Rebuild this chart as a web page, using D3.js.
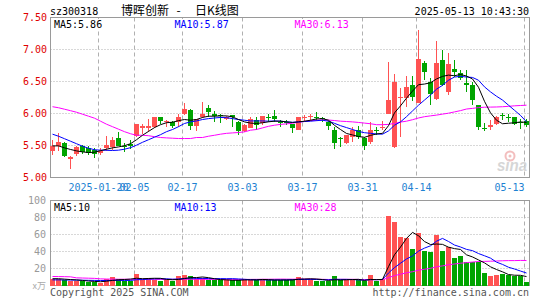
<!DOCTYPE html>
<html><head><meta charset="utf-8">
<script src="https://cdn.jsdelivr.net/npm/d3@7"></script>
<style>body{margin:0;background:#fff}svg{display:block}</style>
</head><body><svg id="c" width="545" height="300"></svg>
<script>
const dates = ["01-08","01-09","01-10","01-13","01-14","01-15","01-16","01-17","01-20","01-21","01-22","01-23","01-24","01-27",
"02-05","02-06","02-07","02-10","02-11","02-12","02-13","02-14","02-17","02-18","02-19","02-20","02-21","02-24","02-25","02-26","02-27","02-28",
"03-03","03-04","03-05","03-06","03-07","03-10","03-11","03-12","03-13","03-14","03-17","03-18","03-19","03-20","03-21","03-24","03-25","03-26","03-27","03-28","03-31",
"04-01","04-02","04-03","04-07","04-08","04-09","04-10","04-11","04-14","04-15","04-16","04-17","04-18","04-21","04-22","04-23","04-24","04-25","04-28","04-29","04-30",
"05-06","05-07","05-08","05-09","05-12","05-13"];
const open = [5.41,5.50,5.54,5.29,5.36,5.50,5.46,5.43,5.39,5.46,
5.48,5.61,5.50,5.52,5.65,5.78,5.78,5.79,5.94,5.86,
5.86,5.87,6.00,6.05,5.80,5.94,6.09,5.99,5.97,5.92,
5.97,5.87,5.73,5.78,5.90,5.85,5.94,5.96,5.87,5.87,
5.83,5.75,5.93,5.94,5.95,5.93,5.87,5.75,5.62,5.54,
5.64,5.74,5.61,5.56,5.75,5.78,5.99,5.48,6.24,6.25,
6.45,6.17,6.79,6.49,6.22,6.84,6.34,6.69,6.63,6.47,
6.45,6.13,5.78,5.79,5.84,5.97,5.95,5.94,5.87,5.89];
const high = [5.58,5.69,5.56,5.33,5.49,5.51,5.50,5.46,5.46,5.65,
5.63,5.71,5.54,5.59,5.84,5.83,5.92,5.94,5.94,5.90,
5.88,6.00,6.16,6.07,5.92,6.18,6.14,6.04,6.00,5.96,
5.98,5.88,5.84,5.95,5.95,5.96,6.00,6.05,5.90,5.90,
5.83,5.94,5.98,6.00,6.02,5.95,5.88,5.79,5.63,5.66,
5.79,5.80,5.63,5.87,5.79,5.88,6.80,6.61,6.40,6.58,
6.58,7.30,6.82,6.55,7.14,6.99,6.94,6.83,6.68,6.68,
6.50,6.14,5.85,5.90,5.96,6.01,6.00,5.94,5.92,5.92];
const low = [5.35,5.42,5.32,5.13,5.33,5.36,5.35,5.31,5.35,5.41,
5.43,5.49,5.40,5.45,5.63,5.68,5.71,5.78,5.83,5.79,
5.77,5.79,5.97,5.75,5.73,5.93,5.95,5.87,5.85,5.90,
5.79,5.67,5.71,5.77,5.75,5.82,5.87,5.86,5.79,5.82,
5.69,5.74,5.89,5.89,5.89,5.86,5.74,5.44,5.48,5.53,
5.56,5.60,5.43,5.53,5.66,5.74,5.99,5.46,5.63,6.10,
6.19,6.16,6.52,6.13,6.21,6.43,6.29,6.57,6.52,6.34,
6.13,5.74,5.72,5.74,5.82,5.90,5.87,5.82,5.76,5.79];
const close = [5.50,5.56,5.33,5.32,5.47,5.40,5.39,5.375,5.42,5.51,
5.58,5.50,5.47,5.50,5.83,5.80,5.80,5.94,5.88,5.88,
5.81,5.94,6.07,5.80,5.91,6.00,6.03,5.96,5.96,5.94,
5.94,5.73,5.82,5.91,5.82,5.96,5.93,5.91,5.85,5.85,
5.78,5.94,5.94,5.96,5.93,5.91,5.80,5.54,5.61,5.66,
5.74,5.64,5.50,5.75,5.73,5.79,6.21,6.50,6.26,6.42,
6.26,6.85,6.65,6.31,6.79,6.44,6.77,6.65,6.55,6.44,
6.21,5.79,5.77,5.82,5.94,5.96,5.94,5.84,5.86,5.82];
const volume = [8,8,6.5,5.5,5,5,4.3,4.3,3.5,8.2,
9.6,8.2,5.8,5.8,13.3,7,9.4,7,5.5,7,
5,11,12.2,11,7.4,8.5,7,5.9,5.9,5.9,
5.9,7,8.2,6.2,5.9,8.2,5.9,6.2,6.2,6.2,
8.2,10.2,7.4,7.4,5,5,5,11.4,6.2,6.2,
6.2,6.2,5,12.2,5,7.4,81.5,74.9,57.2,56,
42.7,61.9,40.7,39.6,59.2,40.4,45.4,32.5,34.5,27.8,
27.8,27.8,14.9,11.5,12.2,14,12,11,11,4.5];
const ma5 = [5.494,5.494,5.463,5.438,5.416,5.400,5.390,5.395,5.419,5.442,
5.463,5.478,5.497,5.528,5.590,5.660,5.720,5.780,5.825,5.856,
5.864,5.888,5.906,5.895,5.906,5.938,5.958,5.958,5.963,5.963,
5.947,5.906,5.869,5.850,5.844,5.855,5.870,5.880,5.880,5.869,
5.860,5.869,5.880,5.895,5.915,5.920,5.895,5.815,5.750,5.688,
5.665,5.640,5.628,5.658,5.680,5.690,5.810,6.010,6.120,6.240,
6.350,6.450,6.460,6.480,6.540,6.580,6.600,6.590,6.610,6.585,
6.540,6.410,6.190,6.010,5.895,5.840,5.848,5.855,5.868,5.860];
const ma10 = [5.677,5.645,5.606,5.567,5.528,5.489,5.458,5.434,5.427,5.425,
5.422,5.427,5.442,5.466,5.505,5.550,5.590,5.630,5.669,5.716,
5.750,5.794,5.844,5.869,5.884,5.906,5.920,5.930,5.938,5.935,
5.920,5.906,5.895,5.884,5.884,5.884,5.880,5.884,5.880,5.870,
5.862,5.869,5.875,5.880,5.888,5.895,5.880,5.846,5.810,5.780,
5.750,5.720,5.700,5.690,5.680,5.677,5.728,5.817,5.869,5.950,
6.040,6.130,6.210,6.290,6.380,6.440,6.520,6.570,6.580,6.570,
6.563,6.520,6.416,6.338,6.270,6.210,6.130,6.050,5.970,5.870];
const ma30 = [6.106,6.090,6.067,6.044,6.020,5.989,5.958,5.927,5.880,5.833,
5.794,5.755,5.716,5.684,5.660,5.660,5.653,5.638,5.625,5.619,
5.614,5.609,5.609,5.609,5.625,5.625,5.645,5.660,5.677,5.690,
5.697,5.703,5.713,5.739,5.750,5.775,5.800,5.817,5.830,5.838,
5.848,5.864,5.875,5.888,5.895,5.900,5.898,5.890,5.880,5.875,
5.869,5.860,5.850,5.840,5.825,5.825,5.830,5.845,5.866,5.880,
5.903,5.930,5.950,5.963,5.975,5.990,6.005,6.025,6.045,6.070,
6.080,6.092,6.098,6.100,6.102,6.106,6.112,6.120,6.125,6.130];
const vma5 = [8.0,8.0,7.5,7.0,6.6,6.0,5.26,4.82,4.42,5.06,
5.98,6.76,7.06,7.52,8.54,8.02,8.26,8.5,8.44,7.18,
6.78,7.1,8.14,9.24,9.32,10.02,9.22,7.96,6.94,6.64,
6.12,6.12,6.58,6.64,6.64,7.1,6.88,6.48,6.48,6.54,
6.54,7.4,7.64,7.88,7.64,7.0,5.96,6.76,6.52,6.76,
7.0,7.24,5.96,7.16,6.92,7.16,22.2,36.2,45.2,55.4,
62.5,58.5,51.7,48.2,48.8,48.4,45.1,43.4,42.4,36.1,
33.6,30.1,26.6,22.0,18.8,16.1,12.9,12.1,12.0,10.5];
const vma10 = [6.6,6.6,6.5,6.4,6.3,6.2,6.1,6.0,5.9,5.83,
5.99,6.01,5.94,5.97,6.8,7.0,7.51,7.78,7.98,7.86,
7.4,7.68,8.32,8.84,8.25,8.4,8.16,8.05,8.09,7.98,
8.07,7.67,7.27,6.79,6.64,6.61,6.5,6.53,6.56,6.59,
6.82,7.14,7.06,7.18,7.09,6.77,6.68,7.2,7.2,7.2,
7.0,6.6,6.36,6.84,6.84,7.08,14.73,21.1,26.2,31.2,
34.8,40.4,44.0,46.7,52.1,55.4,51.8,47.6,45.3,42.5,
41.0,37.6,35.0,32.2,27.5,24.8,21.5,19.4,17.0,14.7];
const vma30 = [10.6,10.5,10.4,10.2,9.0,8.8,8.6,8.4,7.8,7.6,
7.5,7.4,7.4,7.3,7.3,7.3,7.3,7.3,7.2,7.2,
7.2,7.2,7.3,7.3,7.3,7.3,7.2,7.2,7.2,7.22,
7.15,7.12,7.18,7.2,7.23,7.34,7.39,7.45,7.54,7.48,
7.43,7.5,7.55,7.6,7.33,7.26,7.11,7.26,7.28,7.26,
7.3,7.14,6.9,6.94,6.86,6.82,9.3,11.6,13.3,14.98,
16.2,18.04,19.1,20.2,22.0,23.1,24.4,25.3,26.2,26.9,
27.6,28.2,28.4,28.6,28.8,29.1,29.3,29.3,29.5,29.4];
const priceTicks = [5.00,5.50,6.00,6.50,7.00,7.50];
const volTicks = [20,40,60,80,100];
const dateTicks = ["01-20","02-05","02-17","03-03","03-17","03-31","04-14","05-13"];
const dateTickLabels = ["2025-01-20","02-05","02-17","03-03","03-17","03-31","04-14","05-13"];
const legendMain = [["MA5:5.86","#000"],["MA10:5.87","#0000ff"],["MA30:6.13","#ff00ff"]];
const legendVol = [["MA5:10","#000"],["MA10:13","#0000ff"],["MA30:28","#ff00ff"]];

const MONO = "DejaVu Sans Mono, monospace";
const CJK = "Noto Sans CJK SC, sans-serif";
const RED = "#ff5252", GREEN = "#00a400", GRID = "#b0b0b0", FRAME = "#9a9a9a";
const L = 50.5, R = 529.5, T = 17.5, B = 177.5, VT = 200.5, VB = 285.5;

const svg = d3.select("#c");
const x = d3.scalePoint().domain(dates).range([52.5, 526.5]);
const y = d3.scaleLinear().domain([5, 7.5]).range([B, T]);
const yv = d3.scaleLinear().domain([0, 100]).range([VB, VT]);
const data = dates.map((d, i) => ({d, o: open[i], h: high[i], l: low[i], c: close[i], v: volume[i]}));
const col = d => d.c >= d.o ? RED : GREEN;

// grids
const g = svg.append("g");
g.selectAll(".hp").data(priceTicks.filter(t => t > 5 && t < 7.5)).join("line")
  .attr("x1", L).attr("x2", R).attr("y1", d => y(d)).attr("y2", d => y(d))
  .attr("stroke", GRID).attr("stroke-dasharray", "1,2");
g.selectAll(".hv").data(volTicks.filter(t => t < 100)).join("line")
  .attr("x1", L).attr("x2", R).attr("y1", d => yv(d)).attr("y2", d => yv(d))
  .attr("stroke", GRID).attr("stroke-dasharray", "1,2");
[[T, B], [VT, VB]].forEach(([a, b]) => {
  g.append("g").selectAll("line").data(dateTicks).join("line")
    .attr("x1", d => x(d) - 2).attr("x2", d => x(d) - 2).attr("y1", a).attr("y2", b)
    .attr("stroke", GRID).attr("stroke-dasharray", "4,3");
});

// watermark
const wm = svg.append("g").attr("opacity", 0.9);
wm.append("circle").attr("cx", 510).attr("cy", 156).attr("r", 4.5).attr("fill", "none").attr("stroke", "#f2b8b8").attr("stroke-width", 2);
wm.append("circle").attr("cx", 510).attr("cy", 156).attr("r", 1.5).attr("fill", "#f2b8b8");
wm.append("text").attr("x", 497).attr("y", 171).attr("font-family", "Liberation Sans, sans-serif")
  .attr("font-size", 16).attr("font-weight", "bold").attr("font-style", "italic").attr("fill", "#d2d2d2")
  .attr("textLength", 30).attr("lengthAdjust", "spacingAndGlyphs").text("sina");

// frames
svg.append("rect").attr("x", L).attr("y", T).attr("width", R - L).attr("height", B - T).attr("fill", "none").attr("stroke", FRAME);
svg.append("rect").attr("x", L).attr("y", VT).attr("width", R - L).attr("height", VB - VT).attr("fill", "none").attr("stroke", FRAME);

// candles
const cg = svg.append("g");
cg.selectAll(".w").data(data).join("rect")
  .attr("x", d => x(d.d) - 0.5).attr("width", 1)
  .attr("y", d => Math.round(y(d.h))).attr("height", d => Math.max(1, Math.round(y(d.l)) - Math.round(y(d.h))))
  .attr("fill", col);
cg.selectAll(".b").data(data).join("rect")
  .attr("x", d => x(d.d) - 2.5).attr("width", 5)
  .attr("y", d => Math.round(y(Math.max(d.o, d.c))))
  .attr("height", d => Math.max(1, Math.round(y(Math.min(d.o, d.c))) - Math.round(y(Math.max(d.o, d.c)))))
  .attr("fill", col);

// volume bars
svg.append("g").selectAll("rect").data(data).join("rect")
  .attr("x", d => x(d.d) - 2.5).attr("width", 5)
  .attr("y", d => Math.round(yv(d.v))).attr("height", d => VB + 0.5 - Math.round(yv(d.v)))
  .attr("fill", col);

// MA lines
const lineP = d3.line().x((d, i) => x(dates[i])).y(d => y(d));
const lineV = d3.line().x((d, i) => x(dates[i])).y(d => yv(d));
[[ma30, "#ff00ff"], [ma10, "#0000ff"], [ma5, "#000"]].forEach(([arr, c]) =>
  svg.append("path").attr("d", lineP(arr)).attr("fill", "none").attr("stroke", c).attr("stroke-width", 1));
[[vma30, "#ff00ff"], [vma10, "#0000ff"], [vma5, "#000"]].forEach(([arr, c]) =>
  svg.append("path").attr("d", lineV(arr)).attr("fill", "none").attr("stroke", c).attr("stroke-width", 1));

// legends
function legend(items, by) {
  const xs = [54, 174.5, 294.5];
  items.forEach(([t, c], i) => {
    svg.append("rect").attr("x", xs[i] - 1).attr("y", by - 9).attr("width", t.length * 6.02 + 2).attr("height", 11).attr("fill", "#fff");
    svg.append("text").attr("x", xs[i]).attr("y", by).attr("font-family", MONO).attr("font-size", 10).attr("fill", c).text(t);
  });
}
legend(legendMain, 28);
legend(legendVol, 210.5);

// y labels
svg.append("g").selectAll("text").data(priceTicks).join("text")
  .attr("x", 47).attr("y", d => y(d) + 3.7).attr("text-anchor", "end")
  .attr("font-family", MONO).attr("font-size", 10).attr("fill", "#e00000").text(d => d3.format(".2f")(d));
svg.append("g").selectAll("text").data(volTicks).join("text")
  .attr("x", 46).attr("y", d => yv(d) + 3.7).attr("text-anchor", "end")
  .attr("font-family", MONO).attr("font-size", 10).attr("fill", "#999").text(d => d);
svg.append("text").attr("x", 46).attr("y", 289).attr("text-anchor", "end")
  .attr("font-family", CJK).attr("font-size", 9).attr("fill", "#aaa").text("x万");

// x labels
svg.append("g").selectAll("text").data(dateTicks).join("text")
  .attr("x", (d, i) => i === dateTicks.length - 1 ? x(d) - 2 : x(d) - 2)
  .attr("y", 191)
  .attr("text-anchor", (d, i) => i === dateTicks.length - 1 ? "end" : "middle")
  .attr("font-family", MONO).attr("font-size", 10).attr("fill", "#1e82d2")
  .text((d, i) => dateTickLabels[i]);

// header
svg.append("text").attr("x", 50).attr("y", 15).attr("font-family", MONO).attr("font-size", 10).attr("fill", "#000").text("sz300318");
svg.append("text").attr("x", 121).attr("y", 14.5).attr("font-family", CJK).attr("font-size", 12).attr("fill", "#000").text("博晖创新");
svg.append("text").attr("x", 176.5).attr("y", 14.5).attr("font-family", CJK).attr("font-size", 12).attr("fill", "#000").text("-");
svg.append("text").attr("x", 195).attr("y", 14.5).attr("font-family", CJK).attr("font-size", 12).attr("fill", "#000").text("日K线图");
svg.append("text").attr("x", 529).attr("y", 15).attr("text-anchor", "end").attr("font-family", MONO).attr("font-size", 10).attr("fill", "#000").text("2025-05-13 10:43:30");

// footer
svg.append("text").attr("x", 50).attr("y", 296).attr("font-family", MONO).attr("font-size", 10).attr("fill", "#555").text("Copyright 2025 SINA.COM");
svg.append("text").attr("x", 529).attr("y", 296).attr("text-anchor", "end").attr("font-family", MONO).attr("font-size", 10).attr("fill", "#555").text("http://finance.sina.com.cn");
</script></body></html>
